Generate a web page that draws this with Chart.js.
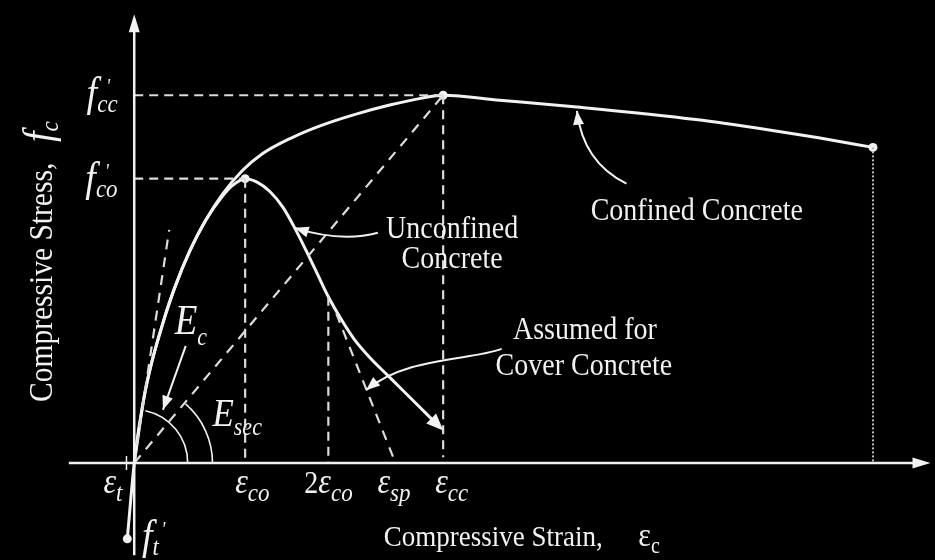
<!DOCTYPE html>
<html>
<head>
<meta charset="utf-8">
<script src="https://cdn.jsdelivr.net/npm/chart.js@4.4.1/dist/chart.umd.min.js"></script>
<style>
html,body{margin:0;padding:0;background:#000;overflow:hidden;}
canvas{display:block;}
</style>
</head>
<body>
<canvas id="chart" width="935" height="560"></canvas>
<script>
// ---------- values (strain in per-mille, stress in MPa) ----------
const eps_t = -0.14, eps_co = 2.0, eps_2co = 3.5, eps_sp = 4.71, eps_cc = 5.57, eps_cu = 13.32;
const f_co = 30.0, f_cc = 38.8, f_t = -8.0, f_cu = 33.3;

const confinedStrain = [-0.125, 0, 0.089, 0.196, 0.339, 0.518, 0.732, 1.0, 1.286, 1.589, 1.946, 2.304, 2.839, 3.375, 4.0, 4.625, 5.161, 5.57, 6.589, 7.982, 10.125, 11.393, 12.339, 13.32];
const confinedStress = [-8.0, 0, 3.89, 7.51, 11.16, 14.79, 18.53, 22.35, 25.59, 28.34, 30.83, 32.6, 34.31, 35.62, 36.81, 37.79, 38.47, 38.8, 38.28, 37.55, 36.23, 35.19, 34.31, 33.3];

const unconfinedStrain = [0, 0.196, 0.518, 0.732, 1.0, 1.286, 1.589, 1.768, 2.0, 2.214, 2.446, 2.679, 2.893, 3.107, 3.304, 3.5, 3.732, 3.964, 4.268, 4.571, 5.036, 5.518];
const unconfinedStress = [0, 7.51, 14.79, 18.53, 22.35, 25.59, 28.13, 29.27, 30.0, 29.64, 28.65, 26.99, 24.81, 22.32, 19.93, 17.54, 15.16, 13.08, 11.0, 9.24, 6.54, 3.74];

const coverStrain = [3.643, 4.71];
const coverStress = [15.78, 0];
const tangentStrain = [0, 0.63];
const tangentStress = [0, 24.6];

const xTickValues = [eps_t, eps_co, eps_2co, eps_sp, eps_cc];
const xTickLabels = [['', 'ε', 't'], ['', 'ε', 'co'], ['2', 'ε', 'co'], ['', 'ε', 'sp'], ['', 'ε', 'cc']];
const yTickValues = [f_cc, f_co, f_t];
const yTickLabels = [['f', 'cc'], ['f', 'co'], ['f', 't']];
const xTitle = ['Compressive Strain,  ', 'ε', 'c'];
const yTitle = ['Compressive Stress,  ', 'f', 'c'];
const noteTexts = ['Confined Concrete', 'Unconfined', 'Concrete', 'Assumed for', 'Cover Concrete'];
const modulusLabels = [['E', 'c'], ['E', 'sec']];

// ---------- layout (positions in data units) ----------
const X_MIN = -2.339, X_MAX = 14.357, Y_MIN = -9.758, Y_MAX = 48.375;
const layout = {
  xTickDx: [-23, -10, -24, -18, -8],
  xTickBase: 30,
  yTickPos: [{x: -0.3, dy: 10.5, align: 'right'}, {x: -0.3, dy: 12, align: 'right'}, {x: 0.14, dy: 10, align: 'left'}],
  notes: [{x: 10.143, y: 25.64}, {x: 5.732, y: 23.77}, {x: 5.732, y: 20.55}, {x: 8.125, y: 13.08}, {x: 8.107, y: 9.24}],
  modulus: [{x: 0.73, y: 13.6, s: 37, d: 11}, {x: 1.41, y: 3.94, s: 35, d: 9}],
  xTitle: {x: 4.5, y: -8.8},
  yTitle: {x: -1.48, y: 6.44},
  arcs: [{r: 0.964, a: 78}, {r: 1.411, a: 49}],
  arrows: [
    {pts: [[0.929, 12.35], [0.518, 5.61]]},
    {pts: [[4.393, 24.29], [3.732, 23.25], [2.893, 24.81]]},
    {pts: [[6.625, 12.04], [6.054, 10.80], [4.893, 11.21], [4.179, 7.68]]},
    {pts: [[8.875, 29.48], [8.089, 31.77], [7.982, 37.16]]}
  ]
};

const SERIF = '"Liberation Serif","Times New Roman",serif';
const INK = '#f2f2f2';
const GUIDE = '#dcdcdc';
const VS = 1.12;

const pairs = (xs, ys) => xs.map((x, i) => ({x: x, y: ys[i]}));
const seg = (x0, y0, x1, y1) => [{x: x0, y: y0}, {x: x1, y: y1}];

function lineDs(data, opts) {
  return Object.assign({data: data, showLine: true, pointRadius: 0, borderColor: INK, borderWidth: 2, fill: false, tension: 0}, opts || {});
}
const dash = {borderColor: GUIDE, borderWidth: 2.2, borderDash: [9, 6]};
const dash2 = Object.assign({}, dash, {borderDash: [10, 8]});

const datasets = [
  lineDs(seg(-1.18, 0, 14.2, 0), {borderWidth: 2.5}),
  lineDs(seg(0, Y_MIN, 0, 46.8), {borderWidth: 2.5}),
  lineDs(seg(0, f_cc, eps_cc, f_cc), dash),
  lineDs(seg(0, f_co, eps_co, f_co), dash),
  lineDs(seg(eps_co, f_co, eps_co, 0), dash),
  lineDs(seg(eps_cc, f_cc, eps_cc, 0.6), dash),
  lineDs(seg(eps_2co, 17.54, eps_2co, 0), dash),
  lineDs(seg(0, 0, eps_cc, f_cc), dash2),
  lineDs(pairs(tangentStrain, tangentStress), dash2),
  lineDs(pairs(coverStrain, coverStress), dash2),
  lineDs(seg(eps_cu, f_cu, eps_cu, 0), {borderColor: '#bdbdbd', borderWidth: 2, borderDash: [2, 2]}),
  lineDs(seg(eps_t, 0.75, eps_t, -0.75), {borderWidth: 1.5}),
  lineDs(pairs(confinedStrain, confinedStress), {borderWidth: 3, cubicInterpolationMode: 'monotone'}),
  lineDs(pairs(unconfinedStrain, unconfinedStress), {borderWidth: 3, cubicInterpolationMode: 'monotone'}),
  {data: pairs([eps_cc, eps_cu, eps_co, -0.125], [f_cc, f_cu, f_co, f_t]), showLine: false, pointRadius: 4.5, pointBackgroundColor: INK, pointBorderWidth: 0}
];

function font(size, it) { return (it ? 'italic ' : '') + size + 'px ' + SERIF; }

function drawRuns(ctx, runs, x, y, align) {
  let w = 0; const ws = [];
  runs.forEach(r => { ctx.font = font(r.size, r.it); const m = r.t ? ctx.measureText(r.t).width : 0; ws.push(m); if (!r.noAdv) w += m + (r.dx || 0); });
  let cx = align === 'center' ? x - w / 2 : (align === 'right' ? x - w : x);
  runs.forEach((r, i) => {
    if (!r.t) return;
    ctx.save();
    ctx.font = font(r.size, r.it);
    ctx.translate(cx + (r.dx || 0), y + (r.dy || 0));
    ctx.scale(1, VS);
    ctx.fillText(r.t, 0, 0);
    ctx.restore();
    if (!r.noAdv) cx += ws[i] + (r.dx || 0);
  });
}

function arrowHead(ctx, x, y, ang, len, half) {
  ctx.beginPath();
  ctx.moveTo(x, y);
  ctx.lineTo(x - len * Math.cos(ang) + half * Math.sin(ang), y - len * Math.sin(ang) - half * Math.cos(ang));
  ctx.lineTo(x - len * Math.cos(ang) - half * Math.sin(ang), y - len * Math.sin(ang) + half * Math.cos(ang));
  ctx.closePath();
  ctx.fill();
}

const overlay = {
  id: 'overlay',
  afterDatasetsDraw(chart) {
    const ctx = chart.ctx, sx = chart.scales.x, sy = chart.scales.y;
    const X = v => sx.getPixelForValue(v), Y = v => sy.getPixelForValue(v);
    ctx.save();
    ctx.fillStyle = INK; ctx.strokeStyle = INK;
    ctx.textBaseline = 'alphabetic'; ctx.textAlign = 'left';
    // axis arrowheads
    arrowHead(ctx, X(X_MAX), Y(0), 0, 18, 5.5);
    arrowHead(ctx, X(0), Y(47.34), -Math.PI / 2, 18, 5.5);
    // unconfined curve end arrowhead
    const n = unconfinedStrain.length;
    const ax = X(unconfinedStrain[n - 1]), ay = Y(unconfinedStress[n - 1]);
    const bx = X(unconfinedStrain[n - 3]), by = Y(unconfinedStress[n - 3]);
    arrowHead(ctx, ax + 3, ay + 3, Math.atan2(ay - by, ax - bx), 17, 7);
    // angle arcs
    ctx.lineWidth = 1.6;
    layout.arcs.forEach(a => {
      const r = X(a.r) - X(0);
      ctx.beginPath();
      ctx.arc(X(0), Y(0), r, -a.a * Math.PI / 180, 0, false);
      ctx.stroke();
    });
    // annotation arrows
    ctx.lineWidth = 2;
    layout.arrows.forEach(a => {
      const p = a.pts.map(q => [X(q[0]), Y(q[1])]);
      ctx.beginPath();
      ctx.moveTo(p[0][0], p[0][1]);
      if (p.length === 2) ctx.lineTo(p[1][0], p[1][1]);
      else if (p.length === 3) ctx.quadraticCurveTo(p[1][0], p[1][1], p[2][0], p[2][1]);
      else ctx.bezierCurveTo(p[1][0], p[1][1], p[2][0], p[2][1], p[3][0], p[3][1]);
      ctx.stroke();
      const e = p[p.length - 1], s = p[p.length - 2];
      arrowHead(ctx, e[0], e[1], Math.atan2(e[1] - s[1], e[0] - s[0]), 14, 5.5);
    });
    // x tick labels
    xTickValues.forEach((v, i) => {
      const L = xTickLabels[i];
      drawRuns(ctx, [
        {t: L[0], size: 28, it: false},
        {t: L[1], size: 32, it: true},
        {t: L[2], size: 23, it: true, dy: 8}
      ], X(v) + layout.xTickDx[i], Y(0) + layout.xTickBase, 'left');
    });
    // y tick labels
    yTickValues.forEach((v, i) => {
      const L = yTickLabels[i], P = layout.yTickPos[i];
      drawRuns(ctx, [
        {t: L[0], size: 38, it: true},
        {t: "'", size: 18, it: true, dx: 9, dy: -13, noAdv: true},
        {t: L[1], size: 23, it: true, dy: 6}
      ], X(P.x), Y(v) + P.dy, P.align);
    });
    // modulus labels
    modulusLabels.forEach((L, i) => {
      const P = layout.modulus[i];
      drawRuns(ctx, [{t: L[0], size: P.s, it: true}, {t: L[1], size: 22, it: true, dy: P.d}], X(P.x), Y(P.y), 'left');
    });
    // notes
    noteTexts.forEach((t, i) => {
      const P = layout.notes[i];
      drawRuns(ctx, [{t: t, size: 28, it: false}], X(P.x), Y(P.y), 'center');
    });
    // x title
    drawRuns(ctx, [
      {t: xTitle[0], size: 27, it: false},
      {t: xTitle[1], size: 30, it: false, dx: 22},
      {t: xTitle[2], size: 20, it: false, dy: 7}
    ], X(layout.xTitle.x), Y(layout.xTitle.y), 'left');
    // y title (rotated)
    ctx.save();
    ctx.translate(X(layout.yTitle.x), Y(layout.yTitle.y));
    ctx.rotate(-Math.PI / 2);
    drawRuns(ctx, [
      {t: yTitle[0], size: 29.5, it: false},
      {t: yTitle[1], size: 38, it: true, dx: 6},
      {t: yTitle[2], size: 23, it: true, dy: 6}
    ], 0, 0, 'left');
    ctx.restore();
    ctx.restore();
  }
};

const bg = {
  id: 'bg',
  beforeDraw(chart) {
    const c = chart.ctx; c.save(); c.fillStyle = '#000'; c.fillRect(0, 0, chart.width, chart.height); c.restore();
  }
};

new Chart(document.getElementById('chart'), {
  type: 'scatter',
  data: {datasets: datasets},
  options: {
    responsive: false,
    devicePixelRatio: 1,
    animation: false,
    layout: {padding: 0},
    scales: {
      x: {type: 'linear', min: X_MIN, max: X_MAX, display: false},
      y: {type: 'linear', min: Y_MIN, max: Y_MAX, display: false}
    },
    plugins: {legend: {display: false}, tooltip: {enabled: false}}
  },
  plugins: [bg, overlay]
});
</script>
</body>
</html>
